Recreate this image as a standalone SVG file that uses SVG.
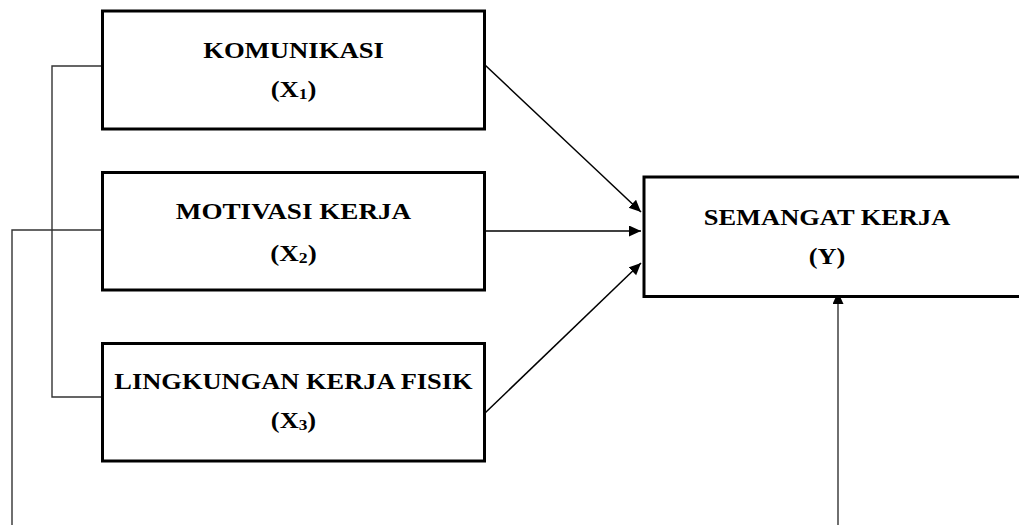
<svg xmlns="http://www.w3.org/2000/svg" width="1019" height="525" viewBox="0 0 1019 525">
<style>
.box{fill:#fff;stroke:#000;stroke-width:3}
.t{font-family:"Liberation Serif","Times New Roman",serif;font-weight:bold;font-size:23px;fill:#000;text-anchor:middle}
.sub{font-size:15px}
.ln{fill:none;stroke:#000;stroke-width:1.5}
.ln2{fill:none;stroke:#333;stroke-width:1.4}
</style>
<defs>
<marker id="ah" markerUnits="userSpaceOnUse" markerWidth="13" markerHeight="12" refX="12" refY="5.5" orient="auto">
<path d="M0,0 L12,5.5 L0,11 z" fill="#000"/>
</marker>
</defs>
<rect width="1019" height="525" fill="#fff"/>
<g id="connectors">
<polyline class="ln2" points="102,66 52,66 52,397 102,397"/>
<polyline class="ln2" points="102,230 12,230 12,525"/>
<line class="ln" x1="485" y1="65" x2="641" y2="212" marker-end="url(#ah)"/>
<line class="ln" x1="485" y1="231" x2="641" y2="231" marker-end="url(#ah)"/>
<line class="ln" x1="485" y1="413" x2="641" y2="263" marker-end="url(#ah)"/>
<line class="ln2" x1="838" y1="525" x2="838" y2="292" stroke-width="2" marker-end="url(#ah)"/>
</g>
<g id="x1">
<rect class="box" x="102.5" y="11" width="382" height="118"/>
<g transform="translate(293.5,0) scale(1.16,1)">
<text class="t" x="0" y="58">KOMUNIKASI</text>
<text class="t" x="0" y="97">(X<tspan class="sub" dy="2">1</tspan><tspan dy="-2">)</tspan></text>
</g>
</g>
<g id="x2">
<rect class="box" x="102.5" y="172.5" width="382" height="117.5"/>
<g transform="translate(293.5,0) scale(1.18,1)">
<text class="t" x="0" y="219">MOTIVASI KERJA</text>
<text class="t" x="0" y="261">(X<tspan class="sub" dy="2">2</tspan><tspan dy="-2">)</tspan></text>
</g>
</g>
<g id="x3">
<rect class="box" x="102.5" y="343.5" width="382" height="117.5"/>
<g transform="translate(293.5,0) scale(1.15,1)">
<text class="t" x="0" y="389">LINGKUNGAN KERJA FISIK</text>
<text class="t" x="0" y="428">(X<tspan class="sub" dy="2">3</tspan><tspan dy="-2">)</tspan></text>
</g>
</g>
<g id="y">
<rect class="box" x="644" y="177" width="400" height="119.5"/>
<g transform="translate(827,0) scale(1.15,1)">
<text class="t" x="0" y="225">SEMANGAT KERJA</text>
<text class="t" x="0" y="264">(Y)</text>
</g>
</g>
</svg>
